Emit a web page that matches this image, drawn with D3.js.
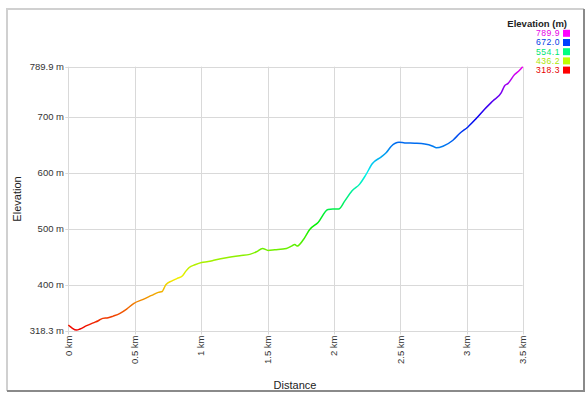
<!DOCTYPE html>
<html>
<head>
<meta charset="utf-8">
<script src="https://cdn.jsdelivr.net/npm/d3@7"></script>
<style>
  body { margin: 0; background: #fff; }
  text { font-family: "Liberation Sans", Arial, sans-serif; }
</style>
</head>
<body>
<div id="chart"></div>
<script>
// elevation profile
var distKm = [0, 0.025, 0.063, 0.088, 0.138, 0.188, 0.226, 0.259, 0.30, 0.338, 0.389, 0.439, 0.494,
    0.564, 0.627, 0.677, 0.707, 0.72, 0.734, 0.777, 0.82, 0.86, 0.885, 0.91, 0.953, 1.003, 1.053,
    1.103, 1.19, 1.29, 1.366, 1.416, 1.462, 1.504, 1.554, 1.642, 1.68, 1.705, 1.722, 1.767, 1.817,
    1.88, 1.955, 1.992, 2.035, 2.08, 2.136, 2.193, 2.238, 2.289, 2.356, 2.394, 2.431, 2.489, 2.532,
    2.607, 2.682, 2.744, 2.77, 2.82, 2.895, 2.945, 3.008, 3.07, 3.133, 3.195, 3.259, 3.283, 3.308,
    3.359, 3.396, 3.42];
var elevM = [328.1, 323.3, 319.0, 321.0, 326.9, 332.0, 335.8, 340.0, 341.0, 344.0, 349.0, 356.7, 366.9,
    374.0, 381.0, 386.5, 388.0, 393.6, 400.0, 406.7, 411.5, 416.2, 424.5, 431.0, 435.8, 440.0, 441.5,
    444.2, 448.3, 452.0, 454.4, 459.0, 465.0, 461.5, 462.6, 465.0, 469.2, 472.2, 469.2, 480.0, 499.0,
    511.5, 534.7, 535.3, 535.3, 549.5, 568.0, 580.0, 596.0, 616.9, 628.7, 636.5, 647.8, 654.9, 653.7,
    653.1, 651.9, 647.8, 644.8, 647.8, 658.5, 670.4, 682.2, 697.2, 713.8, 728.7, 743.6, 755.4, 759.7,
    775.8, 783.5, 789.9];

var xTicks = [0, 0.5, 1, 1.5, 2, 2.5, 3, 3.42];
var xTickLabels = ["0 km", "0.5 km", "1 km", "1.5 km", "2 km", "2.5 km", "3 km", "3.5 km"];
var yTicks = [318.3, 400, 500, 600, 700, 789.9];
var yTickLabels = ["318.3 m", "400 m", "500 m", "600 m", "700 m", "789.9 m"];
var legendValues = [789.9, 672.0, 554.1, 436.2, 318.3];

var W = 588, H = 396;
var minE = 318.3, maxE = 789.9;

var svg = d3.select("#chart").append("svg")
    .attr("width", W)
    .attr("height", H);

// frame
svg.append("rect").attr("x", 0).attr("y", 0).attr("width", W).attr("height", H).attr("fill", "#fff");
svg.append("path").attr("d", "M7,391 L7,9 L584,9")
    .attr("fill", "none").attr("stroke", "#d0d0d0").attr("stroke-width", 2);
svg.append("path").attr("d", "M584,9 L584,391 L7,391")
    .attr("fill", "none").attr("stroke", "#8a8a8a").attr("stroke-width", 2);

var x = d3.scaleLinear().domain([0, 3.42]).range([68.3, 522.7]);
var y = d3.scaleLinear().domain([minE, maxE]).range([330.5, 66.7]);

function hueColor(e, l) {
    var h = 300 * (e - minE) / (maxE - minE);
    return d3.hsl(h, 1, l).toString();
}

// grid
var grid = svg.append("g").attr("stroke", "#d9d9d9").attr("stroke-width", 1);
grid.selectAll(".vx").data(xTicks).enter().append("line")
    .attr("x1", d => Math.round(x(d)) + 0.5).attr("x2", d => Math.round(x(d)) + 0.5)
    .attr("y1", y(maxE)).attr("y2", y(minE) + 4);
grid.selectAll(".hy").data(yTicks).enter().append("line")
    .attr("x1", x(0) - 3).attr("x2", x(3.42))
    .attr("y1", d => Math.round(y(d)) + 0.5).attr("y2", d => Math.round(y(d)) + 0.5);

// y labels
svg.append("g").selectAll("text").data(yTicks).enter().append("text")
    .attr("x", 64).attr("y", d => y(d))
    .attr("dy", "0.35em")
    .attr("text-anchor", "end")
    .attr("font-size", 9.5)
    .attr("fill", "#333")
    .text((d, i) => yTickLabels[i]);

// x labels (rotated)
svg.append("g").selectAll("text").data(xTicks).enter().append("text")
    .attr("transform", d => "translate(" + x(d) + "," + (y(minE) + 5) + ") rotate(-90)")
    .attr("dy", "0.35em")
    .attr("text-anchor", "end")
    .attr("font-size", 9.5)
    .attr("fill", "#333")
    .text((d, i) => xTickLabels[i]);

// axis titles
svg.append("text")
    .attr("transform", "translate(21,199) rotate(-90)")
    .attr("text-anchor", "middle")
    .attr("font-size", 11)
    .attr("fill", "#222")
    .text("Elevation");
svg.append("text")
    .attr("x", 295).attr("y", 389)
    .attr("text-anchor", "middle")
    .attr("font-size", 11)
    .attr("fill", "#222")
    .text("Distance");

// gradient by elevation
var grad = svg.append("defs").append("linearGradient")
    .attr("id", "elevGrad")
    .attr("gradientUnits", "userSpaceOnUse")
    .attr("x1", 0).attr("x2", 0)
    .attr("y1", y(minE)).attr("y2", y(maxE));
d3.range(0, 11).forEach(function(i) {
    grad.append("stop")
        .attr("offset", i / 10)
        .attr("stop-color", d3.hsl(i * 30, 1, 0.47).toString());
});

var pts = distKm.map((d, i) => [d, elevM[i]]);
var line = d3.line().x(d => x(d[0])).y(d => y(d[1])).curve(d3.curveMonotoneX);

svg.append("path")
    .datum(pts)
    .attr("d", line)
    .attr("fill", "none")
    .attr("stroke", "url(#elevGrad)")
    .attr("stroke-width", 1.5)
    .attr("stroke-linejoin", "round");

// legend
var lg = svg.append("g");
lg.append("text")
    .attr("x", 567).attr("y", 23.5)
    .attr("dy", "0.35em")
    .attr("text-anchor", "end")
    .attr("font-size", 9.5)
    .attr("font-weight", "bold")
    .attr("fill", "#222")
    .text("Elevation (m)");
var rows = lg.selectAll(".row").data(legendValues).enter().append("g")
    .attr("transform", (d, i) => "translate(0," + (33.3 + i * 9.2) + ")");
rows.append("text")
    .attr("x", 560).attr("dy", "0.33em")
    .attr("text-anchor", "end")
    .attr("font-size", 8.6)
    .attr("letter-spacing", 0.5)
    .attr("fill", d => hueColor(d, 0.45))
    .text(d => d.toFixed(1));
rows.append("rect")
    .attr("x", 563).attr("y", -3.5)
    .attr("width", 7).attr("height", 7)
    .attr("fill", d => hueColor(d, 0.5));
</script>
</body>
</html>
